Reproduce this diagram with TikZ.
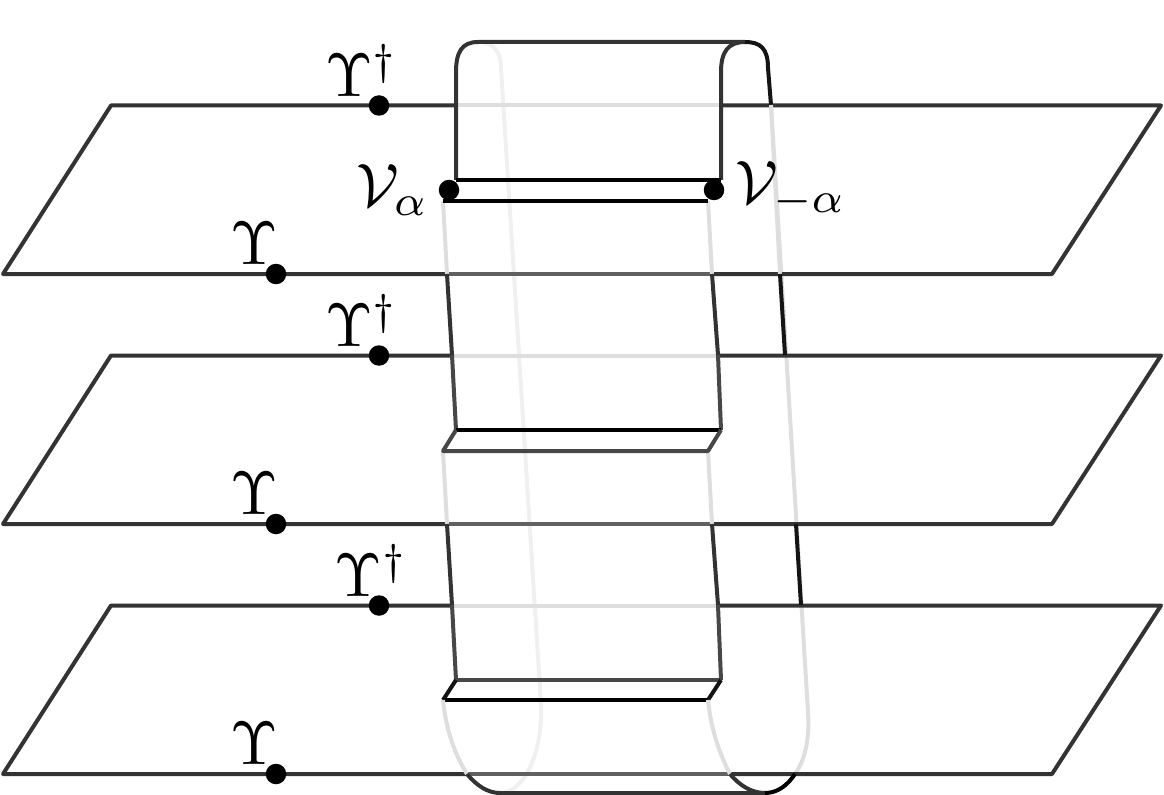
\documentclass[tikz,border=0pt]{standalone}
\usepackage{xcolor}
\usetikzlibrary{positioning}

\begin{document}
\begin{tikzpicture}[
        x=0.75pt, y=-0.75pt,
        line width=3pt, line join=round,
        node distance=0pt,
        solid/.style={draw=black!80},
        strong/.style={draw=black!92},
        half/.style={draw=black!62},
        soft/.style={draw=black!72},
        faint/.style={draw=black!13},
        fainter/.style={draw=black!6},
        puncture/.style={circle, fill=black, inner sep=0pt, minimum size=20.5*0.75pt},
        symb/.style={inner sep=0pt, scale=4.6}
    ]
        \useasboundingbox (0,0) rectangle (1164,795);

        % back of the tube
        \draw[fainter] (478,42) .. controls (492,42) and (501,50) .. (501,68) -- (541,705) .. controls (543,750) and (525,793) .. (500,793);
        \draw[faint] (771,105) -- (808,712) .. controls (810,742) and (804,761) .. (795,774);

        % sheets
        \foreach \y/\xa/\xb/\xc/\xd in {0/456/721/447/712, 250/452/718/447/712, 500/452/717/467/730} {
            \draw[solid] (\xa,105.5+\y) -- (111,105.5+\y) -- (3,274+\y) -- (\xc,274+\y);
            \draw[solid] (\xb,105.5+\y) -- (1161,105.5+\y) -- (1052,274+\y) -- (\xd,274+\y);
            \draw[half] (\xc,274+\y) -- (\xd,274+\y);
            \draw[faint] (\xa,105.5+\y) -- (\xb,105.5+\y);
        }

        % top of the tube
        \draw[solid] (456,180) -- (456,72) .. controls (456,52) and (462,42) .. (478,42) -- (745,42);
        \draw[solid] (721,180) -- (721,72) .. controls (721,52) and (728,42) .. (745,42);
        \draw[strong] (745,42) .. controls (760,42) and (768,48) .. (768,68) -- (771,105);
        \draw[solid] (500,793) -- (765,793);

        % sides between the sheets
        \foreach \xa/\xb/\y in {443/708/201, 443/708/451} {
            \draw[faint] (\xa,\y) -- (\xa+4,\y+73);
            \draw[faint] (\xb,\y) -- (\xb+4,\y+73);
            \draw[solid] (\xa+4,\y+73) -- (\xa+9,\y+154);
            \draw[solid] (\xb+4,\y+73) -- (\xb+10,\y+154);
            \draw[soft] (\xa+9,\y+154) -- (\xa+13,\y+229);
            \draw[soft] (\xb+10,\y+154) -- (\xb+13,\y+229);
        }
        \draw[faint] (771,105) -- (780,274);
        \draw[strong] (780,274) -- (785,355);
        \draw[strong] (796,524) -- (801,605);

        % slits
        \draw[draw=black, line width=3.2pt] (456,180) -- (721,180);
        \draw[draw=black, line width=3.2pt] (443,201) -- (708,201);
        \draw[draw=black, line width=3.2pt] (456,430) -- (721,430);
        \draw[soft] (456,430) -- (443,451) -- (708,451) -- (721,430);
        \draw[soft] (456,680) -- (721,680);
        \draw[strong] (456,680) -- (443,700);
        \draw[strong] (721,680) -- (708,700);
        \draw[draw=black, line width=3.2pt] (443,700) -- (708,700);

        % bottom of the tube
        \draw[faint] (443,700) .. controls (446,730) and (455,755) .. (467,774);
        \draw[solid] (467,774) .. controls (477,786) and (488,793) .. (500,793);
        \draw[faint] (708,700) .. controls (711,730) and (720,755) .. (730,774);
        \draw[solid] (730,774) .. controls (740,786) and (752,793) .. (765,793);
        \draw[draw=black] (795,774) .. controls (787,786) and (777,793) .. (765,793);

        % punctures
        \node[puncture] (dag1) at (379,105.5) {};
        \node[puncture] (ups1) at (276,274) {};
        \node[puncture] (dag2) at (379,355.5) {};
        \node[puncture] (ups2) at (276,524) {};
        \node[puncture] (dag3) at (379,605.5) {};
        \node[puncture] (ups3) at (276,774) {};
        \node[puncture] (vplus) at (449,190) {};
        \node[puncture] (vminus) at (714,190) {};

        \node[symb, above left=-7pt and -28pt of dag1] (dag1lab) {$\Upsilon^\dagger$};
        \node[symb, above left=-6pt and -15pt of ups1] (ups1lab) {$\Upsilon$};
        \node[symb, above left=-7pt and -28pt of dag2] (dag2lab) {$\Upsilon^\dagger$};
        \node[symb, above left=-6pt and -15pt of ups2] (ups2lab) {$\Upsilon$};
        \node[symb, above left=-7pt and -35pt of dag3] (dag3lab) {$\Upsilon^\dagger$};
        \node[symb, above left=-6pt and -15pt of ups3] (ups3lab) {$\Upsilon$};
        \node[symb, left=-1pt of vplus] (vpluslab) {$\mathcal{V}_\alpha$};
        \node[symb, right=0pt of vminus] (vminuslab) {$\mathcal{V}_{-\alpha}$};
    \end{tikzpicture}
\end{document}
